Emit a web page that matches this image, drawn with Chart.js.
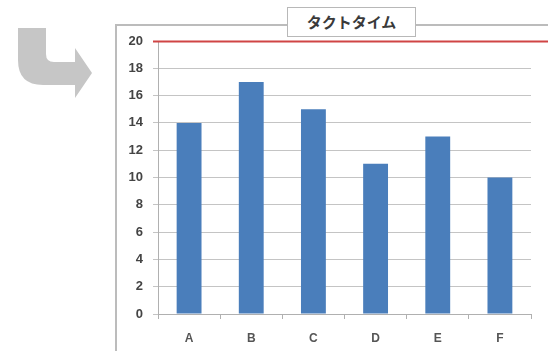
<!DOCTYPE html>
<html>
<head>
<meta charset="utf-8">
<script src="https://cdn.jsdelivr.net/npm/chart.js@4/dist/chart.umd.min.js"></script>
<style>
    html, body { margin: 0; padding: 0; background: #fff; }
    #wrap { position: relative; width: 548px; height: 351px; overflow: hidden; }
    #frame {
        position: absolute; left: 115px; top: 24px; width: 500px; height: 400px;
        border: 2px solid #bcbcbc; box-sizing: border-box;
    }
    #title {
        position: absolute; left: 287px; top: 7px; width: 129px; height: 30px;
        border: 1px solid #b8b8b8; background: #fff; box-sizing: border-box;
        font: bold 15px "Noto Sans CJK JP", sans-serif; color: #3a3a3a;
        text-align: center; line-height: 27px;
    }
    #arrow { position: absolute; left: 0; top: 0; }
    canvas { position: absolute; left: 0; top: 0; }
</style>
</head>
<body>
<div id="wrap">
    <svg id="arrow" width="110" height="110">
        <path d="M18,28 H46 V54 Q46,62 54,62 H75 V48 L92,73 L75,98 V85 H43 Q18,85 18,60 Z" fill="#c6c6c6"/>
    </svg>
    <div id="frame"></div>
    <canvas id="chart" width="548" height="351"></canvas>
    <div id="title">タクトタイム</div>
</div>
<script>
// data
const categories = ['A', 'B', 'C', 'D', 'E', 'F'];
const values = [14, 17, 15, 11, 13, 10];
const yTicks = [0, 2, 4, 6, 8, 10, 12, 14, 16, 18, 20];
const taktTime = 20;

// red takt time line, runs out past the plot to the right edge
const taktLine = {
    id: 'taktLine',
    afterDatasetsDraw(chart) {
        const y = Math.round(chart.scales.y.getPixelForValue(taktTime)) + 0.5;
        const ctx = chart.ctx;
        ctx.save();
        ctx.strokeStyle = '#d04545';
        ctx.lineWidth = 2;
        ctx.beginPath();
        ctx.moveTo(chart.chartArea.left - 5, y);
        ctx.lineTo(chart.width, y);
        ctx.stroke();
        ctx.restore();
    }
};

new Chart(document.getElementById('chart'), {
    type: 'bar',
    data: {
        labels: categories,
        datasets: [{
            data: values,
            backgroundColor: '#4a7ebb',
            categoryPercentage: 0.8,
            barPercentage: 0.5
        }]
    },
    options: {
        responsive: false,
        animation: false,
        layout: { padding: { top: 41, right: 17, left: 0, bottom: 0 } },
        plugins: { legend: { display: false }, tooltip: { enabled: false } },
        scales: {
            x: {
                afterFit: s => { s.height = 37; },
                grid: { offset: true, drawOnChartArea: false, tickLength: 5, color: '#b0b0b0' },
                border: { color: '#b0b0b0' },
                ticks: { color: '#555', padding: 12, font: { family: 'Liberation Sans', size: 12, weight: 'bold' } }
            },
            y: {
                min: 0,
                max: 20,
                afterFit: s => { s.width = 158; },
                afterBuildTicks: s => { s.ticks = yTicks.map(v => ({ value: v })); },
                grid: { color: '#c4c4c4', tickLength: 5 },
                border: { color: '#b0b0b0' },
                ticks: { color: '#444', padding: 10, font: { family: 'Liberation Sans', size: 13, weight: 'bold' } }
            }
        }
    },
    plugins: [taktLine]
});
</script>
</body>
</html>
